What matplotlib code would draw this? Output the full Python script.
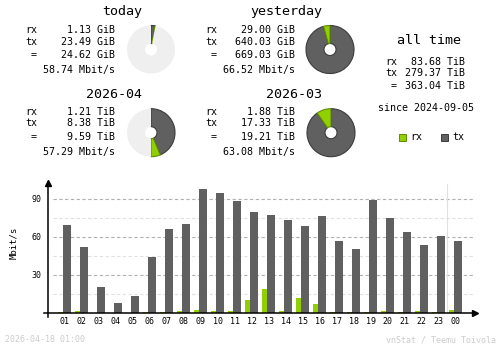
import numpy as np
import matplotlib
matplotlib.use('Agg')
import matplotlib.pyplot as plt

# hourly average rates, Mbit/s
hours = ['01', '02', '03', '04', '05', '06', '07', '08', '09', '10', '11', '12',
         '13', '14', '15', '16', '17', '18', '19', '20', '21', '22', '23', '00']
rx_rate = [1.0, 1.6, 0, 0, 0, 0.8, 0.8, 1.6, 2.4, 1.6, 1.6, 10.3,
           18.9, 1.6, 11.8, 7.1, 0.8, 0.8, 0.8, 1.6, 0.8, 1.6, 0.8, 2.4]
tx_rate = [69.5, 52.1, 20.5, 7.9, 13.4, 44.2, 66.3, 70.3, 97.9, 94.7, 88.4, 79.7,
           77.4, 73.4, 68.7, 76.6, 56.8, 50.5, 89.2, 75.0, 63.9, 53.7, 60.8, 56.8]

# summary boxes: title, rx, tx, total, rate, pie fill fraction
titles = ['today', 'yesterday', '2026-04', '2026-03']
rx_txt = ['1.13 GiB', '29.00 GiB', '1.21 TiB', '1.88 TiB']
tx_txt = ['23.49 GiB', '640.03 GiB', '8.38 TiB', '17.33 TiB']
tot_txt = ['24.62 GiB', '669.03 GiB', '9.59 TiB', '19.21 TiB']
rate_txt = ['58.74 Mbit/s', '66.52 Mbit/s', '57.29 Mbit/s', '63.08 Mbit/s']
rx_val = [1.13, 29.00, 1.21, 1.88]
tx_val = [23.49, 640.03, 8.38, 17.33]
fill = [0.03, 1.0, 0.5, 1.0]

alltime = ['83.68 TiB', '279.37 TiB', '363.04 TiB']
since = 'since 2024-09-05'

RX = '#92cf00'
TX = '#606060'
mono = 'DejaVu Sans Mono'

fig = plt.figure(figsize=(5, 3.48), dpi=100)
W, H = 500.0, 348.0

# text layer in pixel coordinates
tl = fig.add_axes([0, 0, 1, 1])
tl.set_xlim(0, W)
tl.set_ylim(H, 0)
tl.axis('off')

# box anchor positions (label right edge, value right edge, title center, row ys, pie center)
lab_x = [37, 217, 37, 217]
val_x = [115, 295, 115, 295]
tit_x = [122, 286, 114, 294]
top_y = [12, 12, 94, 94]
rows = [[30, 42, 55, 70], [30, 42, 55, 70], [112, 123, 137, 152], [112, 123, 137, 152]]
pie_c = [(151, 49.5), (330, 49.5), (151, 132.7), (331, 132.7)]

for i in range(4):
    tl.text(tit_x[i], top_y[i], titles[i], ha='center', va='center', family=mono, fontsize=9.6)
    ry = rows[i]
    for lab, v, y in zip(['rx', 'tx', '='], [rx_txt[i], tx_txt[i], tot_txt[i]], ry[:3]):
        tl.text(lab_x[i], y, lab, ha='right', va='center', family=mono, fontsize=7.2)
        tl.text(val_x[i], y, v, ha='right', va='center', family=mono, fontsize=7.2)
    tl.text(val_x[i], ry[3], rate_txt[i], ha='right', va='center', family=mono, fontsize=7.2)

    cx, cy = pie_c[i]
    r = 24.5
    pa = fig.add_axes([(cx - r) / W, (H - cy - r) / H, 2 * r / W, 2 * r / H])
    tot = rx_val[i] + tx_val[i]
    f = fill[i]
    vals = [tx_val[i] / tot * f, rx_val[i] / tot * f, 1 - f]
    wedges, _ = pa.pie(vals, colors=[TX, RX, '#efefef'], startangle=90, counterclock=False,
                       radius=1, normalize=False,
                       wedgeprops=dict(width=0.75, linewidth=0.8))
    wedges[0].set_edgecolor('#3c3c3c')
    wedges[1].set_edgecolor('#5e8c00')
    wedges[2].set_edgecolor('none')
    pa.set_xlim(-1.02, 1.02)
    pa.set_ylim(-1.02, 1.02)
    pa.set_aspect('equal')
    pa.axis('off')

# all time block
tl.text(429, 40, 'all time', ha='center', va='center', family=mono, fontsize=9.6)
for lab, v, y in zip(['rx', 'tx', '='], alltime, [62, 73.5, 86]):
    tl.text(397, y, lab, ha='right', va='center', family=mono, fontsize=7.2)
    tl.text(465, y, v, ha='right', va='center', family=mono, fontsize=7.2)
tl.text(426.5, 108, since, ha='center', va='center', family=mono, fontsize=7.2)

# legend
tl.add_patch(plt.Rectangle((399, 133.5), 7, 7, facecolor=RX, edgecolor='#5e8c00', lw=0.7))
tl.text(410, 137, 'rx', ha='left', va='center', family=mono, fontsize=7.2)
tl.add_patch(plt.Rectangle((441, 133.5), 7, 7, facecolor=TX, edgecolor='#3c3c3c', lw=0.7))
tl.text(452, 137, 'tx', ha='left', va='center', family=mono, fontsize=7.2)

# footer
tl.text(5, 340, '2026-04-18 01:00', ha='left', va='center', family=mono, fontsize=6, color='#cccccc')
tl.text(496, 340, 'vnStat / Teemu Toivola', ha='right', va='center', family=mono, fontsize=6, color='#cccccc')

# hourly bar chart
ax = fig.add_axes([48 / W, (H - 313) / H, 429 / W, 132 / H])
x = np.arange(len(hours))
ymax = 104.2
ax.set_xlim(-1, 24.24)
ax.set_ylim(0, ymax)

for g in [15, 45, 75]:
    ax.axhline(g, xmin=0.012, xmax=0.99, color='#e0e0e0', lw=0.8, ls=(0, (3, 2.2)), zorder=0)
for g in [30, 60, 90]:
    ax.axhline(g, xmin=0.012, xmax=0.99, color='#b0b0b0', lw=0.8, ls=(0, (3, 2.2)), zorder=0)
ax.plot([22.47, 22.47], [0, 101.8], color='#e0e0e0', lw=0.8, zorder=0)

ax.bar(x - 0.26, rx_rate, width=0.3, color=RX, zorder=2)
ax.bar(x + 0.13, tx_rate, width=0.47, color=TX, zorder=2)

for s in ax.spines.values():
    s.set_visible(False)
ax.plot([-1.24, 24.1], [0, 0], color='black', lw=1.1, clip_on=False, zorder=3)
ax.plot([-1, -1], [-3.2, ymax - 1], color='black', lw=1.1, clip_on=False, zorder=3)
ax.plot([24.1], [0], marker='>', color='black', ms=4, clip_on=False, zorder=3)
ax.plot([-1], [ymax - 1.5], marker='^', color='black', ms=4, clip_on=False, zorder=3)

ax.set_xticks(x)
ax.set_xticklabels(hours, family=mono, fontsize=6)
ax.set_yticks([30, 60, 90])
ax.set_yticklabels(['30', '60', '90'], family=mono, fontsize=6)
ax.tick_params(length=0)
ax.tick_params(axis='x', pad=3)
ax.tick_params(axis='y', pad=5)
ax.patch.set_alpha(0)
tl.text(14, 243, 'Mbit/s', rotation=90, ha='center', va='center', family=mono, fontsize=6.5)

fig.savefig('out.png', dpi=100)
